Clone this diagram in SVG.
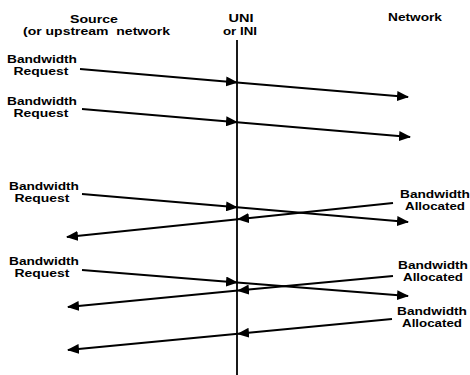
<svg xmlns="http://www.w3.org/2000/svg" width="470" height="375" viewBox="0 0 470 375">
  <style>
    text { font-family: "Liberation Sans", Arial, sans-serif; font-weight: bold; font-size: 10.5px; fill: #000; }
    .mid { text-anchor: middle; }
    .pre { white-space: pre; }
    .flow { stroke: #000; stroke-width: 2; fill: none; marker-end: url(#head); }
    .axis { stroke: #000; stroke-width: 1.8; }
  </style>
  <defs>
    <marker id="head" markerUnits="userSpaceOnUse" markerWidth="12" markerHeight="10" refX="11" refY="5" orient="auto">
      <path d="M0,0 L12,5 L0,10 z" fill="#000"/>
    </marker>
  </defs>
  <rect width="470" height="375" fill="#fff"/>

  <!-- column headings -->
  <g id="source-heading">
    <text class="mid" x="94" y="22.5" textLength="48" lengthAdjust="spacingAndGlyphs">Source</text>
    <text class="pre" x="23" y="35" textLength="147" lengthAdjust="spacingAndGlyphs">(or upstream  network</text>
  </g>
  <g id="interface">
    <text class="mid" x="241" y="22" textLength="25" lengthAdjust="spacingAndGlyphs">UNI</text>
    <text class="mid" x="240" y="34.5" textLength="34" lengthAdjust="spacingAndGlyphs">or INI</text>
    <line class="axis" x1="237" y1="40" x2="237" y2="375"/>
  </g>
  <g id="network-heading">
    <text class="mid" x="415" y="21" textLength="54" lengthAdjust="spacingAndGlyphs">Network</text>
  </g>

  <!-- message labels -->
  <g id="request-1"><text class="mid" x="42" y="62.5" textLength="70" lengthAdjust="spacingAndGlyphs">Bandwidth</text><text class="mid" x="41" y="75" textLength="55" lengthAdjust="spacingAndGlyphs">Request</text></g>
  <g id="request-2"><text class="mid" x="42" y="104.5" textLength="70" lengthAdjust="spacingAndGlyphs">Bandwidth</text><text class="mid" x="41" y="117" textLength="55" lengthAdjust="spacingAndGlyphs">Request</text></g>
  <g id="request-3"><text class="mid" x="44" y="189.5" textLength="70" lengthAdjust="spacingAndGlyphs">Bandwidth</text><text class="mid" x="42" y="202" textLength="55" lengthAdjust="spacingAndGlyphs">Request</text></g>
  <g id="request-4"><text class="mid" x="44" y="264.5" textLength="70" lengthAdjust="spacingAndGlyphs">Bandwidth</text><text class="mid" x="42" y="277" textLength="55" lengthAdjust="spacingAndGlyphs">Request</text></g>
  <g id="allocated-1"><text class="mid" x="435" y="197.5" textLength="70" lengthAdjust="spacingAndGlyphs">Bandwidth</text><text class="mid" x="435" y="210" textLength="60" lengthAdjust="spacingAndGlyphs">Allocated</text></g>
  <g id="allocated-2"><text class="mid" x="433" y="268.5" textLength="70" lengthAdjust="spacingAndGlyphs">Bandwidth</text><text class="mid" x="433" y="281" textLength="60" lengthAdjust="spacingAndGlyphs">Allocated</text></g>
  <g id="allocated-3"><text class="mid" x="432" y="314.5" textLength="70" lengthAdjust="spacingAndGlyphs">Bandwidth</text><text class="mid" x="432" y="327" textLength="60" lengthAdjust="spacingAndGlyphs">Allocated</text></g>

  <!-- message flows, each split at the interface line -->
  <g id="connectors">
    <path class="flow" d="M80,69 L237,82.4"/>
    <path class="flow" d="M237,82.4 L408,97"/>
    <path class="flow" d="M82,109 L237,122.2"/>
    <path class="flow" d="M237,122.2 L410,137"/>
    <path class="flow" d="M82,194 L237,207.3"/>
    <path class="flow" d="M237,207.3 L408,222"/>
    <path class="flow" d="M393,203 L238,219.2"/>
    <path class="flow" d="M238,219.2 L67,237"/>
    <path class="flow" d="M82,270 L237,282.4"/>
    <path class="flow" d="M237,282.4 L408,296"/>
    <path class="flow" d="M393,276 L238,290.6"/>
    <path class="flow" d="M238,290.6 L68,307"/>
    <path class="flow" d="M392,319 L238,333.8"/>
    <path class="flow" d="M238,333.8 L68,350"/>
  </g>
</svg>
